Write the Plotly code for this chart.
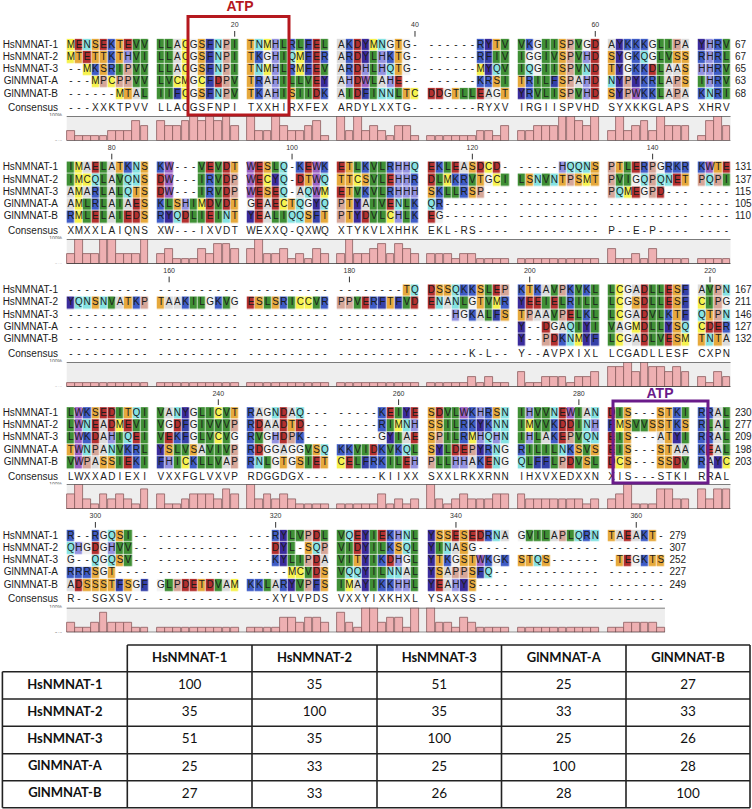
import plotly.graph_objects as go

names = ["HsNMNAT-1", "HsNMNAT-2", "HsNMNAT-3", "GlNMNAT-A", "GlNMNAT-B"]

block1 = ["MENSEKTEVV LLACGSFNPI TNMHLRLFEL AKDYMNGTG- ------RYTV VKGIISPVGD AYKKKGLIPA YHRV",
          "MTETTKTHVI LLACGSFNPI TKGHIQMFER ARDYLHKTG- ------RFIV IGGIVSPVHD SYGKQGLVSS RHRL",
          "--MKSRIPVV LLACGSFNPI TNMHLRMFEV ARDHLHQTG- ------MYQV IQGIISPVND TYGKKDLAAS HHRV",
          "---MPCPPVV LVCMGCFDPV TRAHILLVEY AHDWLAHE-- ------KRSI TRILFSPAHD NYPYKRLAPS IHRV",
          "------MTAL IIFCGSFNPV TKAHISIIDK AIDFINNLTC DDGTLLEAGT YRVLISPVHD SYPWKKLAPA KNRI"]
block2 = ["IMAELATKNS KW---VEVDT WESLQ-KEWK ETLKVLRHHQ EKLEASDCD- -----HQQNS PTLERPGRKR KWTE",
          "IMCQLAVQNS DW---IRVDP WECYQ-DTWQ TTCSVLEHHR DLMKRVTGCI LSNVNTPSMT PVIGQPQNET PQPI",
          "AMARLALQTS DW---IRVDP WESEQ-AQWM ETVKVLRHHH SKLLRSP--- ---------- PQMEGPD--- ----",
          "AMLRLAIAES KLSHIMDVDT GEAECTQGYQ PTYAIVENLK QR-------- ---------- ---------- ----",
          "RMLELAIEDS RYQDLIEINT YEALIQQSFT PTYDVLCHLK EG-------- ---------- ---------- ----"]
block3 = ["---------- ---------- ---------- --------TQ DSSQKKSLEP KTKAVPKVKL LCGADLLESF AVPN",
          "YQNSNVATKP TAAKILGKVG ESLSRICCVR PPVERFTFVD ENANLGTVMR YEEIELRILL LCGSDLLESF CIPG",
          "---------- ---------- ---------- ---------- ---HGKALFS TPAAVPELKL LCGADVLKTF QTPN",
          "---------- ---------- ---------- ---------- ---------- Y--DGAQIYI VAGMDLLYSQ CDER",
          "---------- ---------- ---------- ---------- ---------- Y--PDKNMYF LCGADLVESM TNTA"]
block4 = ["LWKSEDITQI VANYGLICVT RAGNDAQ--- -----KEIYE SDVLWKHRSN IHVVNEWIAN DIS---STKI RRAL",
          "LWNEADMEVI VGDFGIVVVP RDAADTD--- -----RIMNH SSILRKYKNN IMVVKDDINH FMSVVSSTKS RLAL",
          "LWKDAHIQEI VEKFGLVCVG RVGHDPK--- -----GYIAE SPILRMHQHN IHLAKEPVQN EIS---ATYI RRAL",
          "TWNPANVKRL YSLVSAVIVP RDGGAGGVSQ KKVIDKVKQL SYLDEPYRNG RILILNKSVS EIS---STAA KEAL",
          "VWPASSIEKI FHICKLLVAP RNLGTGSIET CELFRKILEH PLLHHAKENG QLFFLPDVSL DCS---SSDV RAYC"]
block5 = ["R--RGQSI-- ---------- ---RYLVPDL VQEYIEKHNL YSSESEDRNA GVILAPLQRN TAEAKT-",
          "QHGDGHVV-- ---------- ---DYL-SQP VIDYILKSQL YINASG---- ---------- -------",
          "G--QGQSV-- ---------- ---KYLIPDA VITYIKDHGL YTKGSTWKGK STQS------ -TEGKTS",
          "RRRSGT---- ---------- -----MCVDS VQQYILNNAL YSAPPSFQ-- ---------- -------",
          "ADSSSTFSGF GLPDETDVAM KKLARYVPFS IMAYIKKHHL YEAHYS---- ---------- -------"]
blocks = [block1, block2, block3, block4, block5]

consensus = ["---XXKTPVV LLACGSFNPI TXXHIRXFEX ARDYLXXTG- ------RYXV IRGIISPVHD SYXKKGLAPS XHRV",
             "XMXXLAIQNS XW---IXVDT WEXXQ-QXWQ XTYKVLXHHK EKL-RS---- ---------- P--E-P---- ----",
             "---------- ---------- ---------- ---------- -----K-L-- Y--AVPXIXL LCGADLLESF CXPN",
             "LWXXADIEXI VXXFGLVXVP RDGGDGX--- -----KIIXX SXXLRKXRNN IHXVXEDXXN XIS---STKI RRAL",
             "R--SGXSV-- ---------- ---XYLVPDS VXXYIXKHXL YSAXSS---- ---------- -------"]

conservation1 = [40,20,20,20,20,40,40,40,80,60, 80,60,60,80,100,80,100,80,100,60,
                 100,40,40,100,60,40,40,60,80,20, 100,40,100,40,60,40,20,60,60,20,
                 20,20,20,20,20,20,40,40,20,60, 40,40,60,60,60,100,100,80,60,100,
                 40,100,40,60,80,40,100,60,60,60, 20,80,100,60]
conservation2 = [40,100,40,40,100,100,40,40,40,100, 40,60,20,20,20,60,40,80,80,60,
                 60,100,40,40,60,20,40,20,60,40, 40,100,40,40,60,80,40,80,60,40,
                 40,40,40,20,40,40,20,20,20,20, 20,20,20,20,20,20,20,20,20,20,
                 60,20,20,40,20,60,20,20,20,20, 20,20,20,20]
conservation3 = [15,15,15,15,15,15,15,15,15,15, 15,15,15,15,15,15,15,15,15,15,
                 15,15,15,15,15,15,15,15,15,15, 15,15,15,15,15,15,15,15,15,15,
                 15,15,15,15,15,40,15,40,15,15, 60,15,15,40,40,40,15,40,40,60,
                 80,80,100,60,100,80,80,60,80,60, 40,15,60,40]
conservation4 = [60,100,40,20,60,40,60,40,20,80, 60,20,20,40,60,60,60,40,80,60,
                 100,40,60,40,60,40,20,20,20,20, 20,20,20,20,20,60,20,40,20,40,
                 100,40,20,40,60,40,40,40,60,60, 60,40,40,40,40,40,40,40,20,40,
                 40,60,100,20,20,20,80,80,40,40, 80,40,80,80]
conservation5 = [40,20,20,40,80,40,40,40,20,20, 20,20,20,20,20,20,20,20,20,20,
                 20,20,20,20,60,60,40,60,60,40, 80,40,20,100,100,40,60,60,20,100,
                 100,40,40,20,60,40,20,20,20,20, 20,20,20,20,20,20,20,20,20,20,
                 20,20,40,40,40,40,20]
conservations = [conservation1, conservation2, conservation3, conservation4, conservation5]

start_cols = [1, 75, 149, 223, 297]
end_numbers = [[67, 67, 65, 63, 68], [131, 137, 115, 105, 110], [167, 211, 146, 127, 132],
               [230, 277, 209, 198, 203], [279, 307, 252, 227, 249]]
tick_labels = [[20, 40, 60], [80, 100, 120, 140], [160, 180, 200, 220], [240, 260, 280], [300, 320, 340, 360]]

table_names = ["HsNMNAT-1", "HsNMNAT-2", "HsNMNAT-3", "GlNMNAT-A", "GlNMNAT-B"]
identity = [[100, 35, 51, 25, 27],
            [35, 100, 35, 33, 33],
            [51, 35, 100, 25, 26],
            [25, 33, 25, 100, 28],
            [27, 33, 26, 28, 100]]

# residue colours
palette = {"A": "#dcdcdc", "R": "#3f5cc6", "K": "#3f5cc6", "D": "#b3302f", "E": "#b3302f",
           "N": "#86e2e2", "Q": "#86e2e2", "C": "#f6f24e", "M": "#f6f24e", "G": "#f1f1f1",
           "H": "#9492e0", "I": "#3f8f35", "L": "#3f8f35", "V": "#3f8f35", "F": "#3540a8",
           "Y": "#3a2b9c", "P": "#d6a698", "S": "#e6a93c", "T": "#e6a93c", "W": "#9a60c2"}
letters = list(palette)

W, H = 752, 809
X0 = 66.7        # left edge of the first alignment column
SLOT = 8.195     # column pitch
ROW = 12.3       # sequence row pitch
ROW1 = [45.0, 167.7, 290.6, 413.3, 536.0]     # centre of first row of each block
CONS_Y = [108, 231, 354.3, 477, 599.7]
BAND = [(116, 140.5), (239, 263.7), (362, 386.7), (484.3, 509), (607.7, 632.3)]


def slot_of(col_idx):
    return col_idx + col_idx // 10


def xpos(col_idx):
    return X0 + (slot_of(col_idx) + 0.5) * SLOT


fig = go.Figure()
shapes = []

# colour scale for heatmap: discrete steps
n = len(letters)
colorscale = []
for i, l in enumerate(letters):
    colorscale.append([i / n, palette[l]])
    colorscale.append([(i + 1) / n, palette[l]])

axis_layout = {}
for b, block in enumerate(blocks):
    rows = [r.replace(" ", "") for r in block]
    ncol = len(rows[0])
    nslot = slot_of(ncol - 1) + 1
    xs = [X0 + (s + 0.5) * SLOT for s in range(nslot)]
    ys = [ROW1[b] + r * ROW for r in range(5)]
    z = [[None] * nslot for _ in range(5)]
    for r, seq in enumerate(rows):
        for c, ch in enumerate(seq):
            if ch in palette:
                z[r][slot_of(c)] = letters.index(ch) + 0.5
    fig.add_trace(go.Heatmap(x=xs, y=ys, z=z, zmin=0, zmax=n, colorscale=colorscale, showscale=False,
                             xgap=0.7, ygap=0.7, hoverinfo="skip", xaxis="x", yaxis="y"))
    # letters
    tx, ty, tt = [], [], []
    for r, seq in enumerate(rows):
        for c, ch in enumerate(seq):
            tx.append(xpos(c)); ty.append(ys[r]); tt.append(ch)
    cons = consensus[b].replace(" ", "")
    for c, ch in enumerate(cons):
        tx.append(xpos(c)); ty.append(CONS_Y[b]); tt.append(ch)
    fig.add_trace(go.Scatter(x=tx, y=ty, text=tt, mode="text", textposition="middle center",
                             textfont=dict(family="Liberation Sans", size=10, color="#1c1c1c"),
                             hoverinfo="skip", xaxis="x", yaxis="y"))
    # row labels
    lab_y = ys + [CONS_Y[b], (BAND[b][0] + BAND[b][1]) / 2 - 0.5]
    lab_t = names + ["Consensus", "Conservation"]
    fig.add_trace(go.Scatter(x=[58] * 7, y=lab_y, text=lab_t, mode="text", textposition="middle left",
                             textfont=dict(family="Liberation Sans", size=10, color="#1c1c1c"),
                             hoverinfo="skip", xaxis="x", yaxis="y"))
    # end numbers
    end_x = X0 + (nslot + 0.55) * SLOT
    fig.add_trace(go.Scatter(x=[end_x] * 5, y=ys, text=[str(v) for v in end_numbers[b]], mode="text",
                             textposition="middle right",
                             textfont=dict(family="Liberation Sans", size=10, color="#1c1c1c"),
                             hoverinfo="skip", xaxis="x", yaxis="y"))
    # ruler ticks
    tick_x = [xpos(t - start_cols[b]) for t in tick_labels[b]]
    fig.add_trace(go.Scatter(x=tick_x, y=[ROW1[b] - 19.3] * len(tick_x), text=[str(t) for t in tick_labels[b]],
                             mode="text", textposition="middle center",
                             textfont=dict(family="Liberation Sans", size=7, color="#333333"),
                             hoverinfo="skip", xaxis="x", yaxis="y"))
    for tx_ in tick_x:
        shapes.append(dict(type="line", xref="x", yref="y", x0=tx_, x1=tx_, y0=ROW1[b] - 14, y1=ROW1[b] - 8.3,
                           line=dict(color="#333333", width=1)))
    # percent labels
    fig.add_trace(go.Scatter(x=[62, 62], y=[BAND[b][0], BAND[b][1] - 1], text=["100%", "0%"], mode="text",
                             textposition="middle left",
                             textfont=dict(family="Liberation Sans", size=5, color="#555555"),
                             hoverinfo="skip", xaxis="x", yaxis="y"))
    # conservation bars on their own 0-100 axis
    yname = f"y{b + 2}"
    axis_layout[f"yaxis{b + 2}"] = dict(domain=[1 - BAND[b][1] / H, 1 - BAND[b][0] / H], range=[0, 100],
                                        visible=False, fixedrange=True, anchor="x")
    band_right = X0 + nslot * SLOT
    shapes.append(dict(type="rect", xref="x", yref=yname, x0=X0, x1=band_right, y0=0, y1=100,
                       fillcolor="#eeeeee", line_width=0, layer="below"))
    shapes.append(dict(type="line", xref="x", yref=yname, x0=X0, x1=band_right, y0=100, y1=100,
                       line=dict(color="#555555", width=1.5)))
    shapes.append(dict(type="line", xref="x", yref=yname, x0=X0, x1=band_right, y0=0, y1=0,
                       line=dict(color="#333333", width=1.2)))
    fig.add_trace(go.Bar(x=[xpos(c) for c in range(ncol)], y=conservations[b], width=SLOT - 0.4,
                         marker=dict(color="#eeb0b2", line=dict(color="#8a5c5e", width=0.8)),
                         hoverinfo="skip", xaxis="x", yaxis=yname))

# ATP boxes
shapes.append(dict(type="rect", xref="x", yref="y", x0=188, x1=289, y0=16.5, y1=115,
                   line=dict(color="#b5181e", width=3)))
shapes.append(dict(type="rect", xref="x", yref="y", x0=613, x1=708, y0=401, y1=483,
                   line=dict(color="#6a1b8a", width=3)))
fig.add_trace(go.Scatter(x=[240], y=[7.5], text=["ATP"], mode="text", textposition="middle center",
                         textfont=dict(family="Liberation Sans", size=14, color="#b5181e", weight="bold"),
                         hoverinfo="skip", xaxis="x", yaxis="y"))
fig.add_trace(go.Scatter(x=[660], y=[394], text=["ATP"], mode="text", textposition="middle center",
                         textfont=dict(family="Liberation Sans", size=14, color="#6a1b8a", weight="bold"),
                         hoverinfo="skip", xaxis="x", yaxis="y"))

# identity table
col_edges = [2.4, 127.3, 252, 377, 501.5, 626, 750]
row_edges = [645, 671.7, 699, 726.3, 753.7, 780.7, 807.7]
line = dict(color="#222222", width=1.6)
for i, xe in enumerate(col_edges):
    shapes.append(dict(type="line", xref="x", yref="y", x0=xe, x1=xe,
                       y0=row_edges[1] if i == 0 else row_edges[0], y1=row_edges[-1], line=line))
for j, ye in enumerate(row_edges):
    shapes.append(dict(type="line", xref="x", yref="y", x0=col_edges[1] if j == 0 else col_edges[0],
                       x1=col_edges[-1], y0=ye, y1=ye, line=line))
col_c = [(col_edges[i] + col_edges[i + 1]) / 2 for i in range(6)]
row_c = [(row_edges[i] + row_edges[i + 1]) / 2 for i in range(6)]
fig.add_trace(go.Scatter(x=col_c[1:] + [col_c[0]] * 5, y=[row_c[0]] * 5 + row_c[1:], text=table_names + table_names,
                         mode="text", textposition="middle center",
                         textfont=dict(family="Lato", size=13, color="#111111", weight="bold"),
                         hoverinfo="skip", xaxis="x", yaxis="y"))
vx, vy, vt = [], [], []
for r, vals in enumerate(identity):
    for c, v in enumerate(vals):
        vx.append(col_c[c + 1]); vy.append(row_c[r + 1]); vt.append(str(v))
fig.add_trace(go.Scatter(x=vx, y=vy, text=vt, mode="text", textposition="middle center",
                         textfont=dict(family="Lato", size=13.5, color="#111111"),
                         hoverinfo="skip", xaxis="x", yaxis="y"))

fig.update_layout(width=W, height=H, margin=dict(l=0, r=0, t=0, b=0), plot_bgcolor="white", paper_bgcolor="white",
                  showlegend=False, bargap=0, shapes=shapes,
                  xaxis=dict(range=[0, W], domain=[0, 1], visible=False, fixedrange=True),
                  yaxis=dict(range=[H, 0], domain=[0, 1], visible=False, fixedrange=True),
                  **axis_layout)
fig.write_html("out.html", config={"displayModeBar": False},
               post_script="document.body.style.margin='0';document.documentElement.style.overflow='hidden';")
